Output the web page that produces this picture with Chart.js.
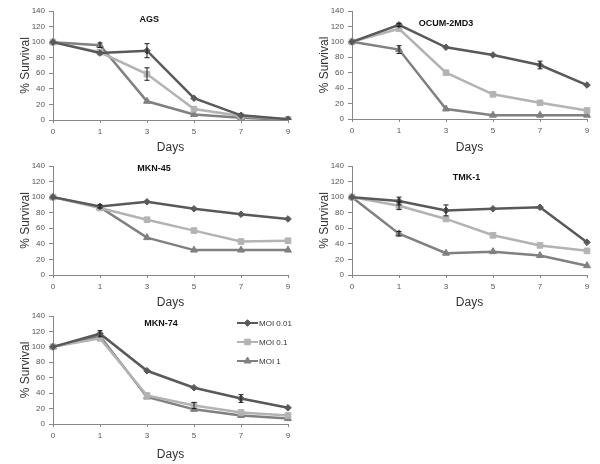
<!DOCTYPE html>
<html>
<head>
<meta charset="utf-8">
<script src="https://cdn.jsdelivr.net/npm/chart.js@4"></script>
<style>
  body { margin: 0; background: #fff; }
  #wrap { position: relative; width: 600px; height: 464px; overflow: hidden; }
  canvas { position: absolute; }
</style>
</head>
<body>
<div id="wrap">
  <canvas id="c1" width="300" height="157" style="left:0;top:0"></canvas>
  <canvas id="c2" width="300" height="157" style="left:299px;top:0"></canvas>
  <canvas id="c3" width="300" height="157" style="left:0;top:155px"></canvas>
  <canvas id="c4" width="300" height="157" style="left:299px;top:155px"></canvas>
  <canvas id="c5" width="300" height="159" style="left:0;top:305px"></canvas>
</div>
<script>
const days = ['0', '1', '3', '5', '7', '9'];
const seriesNames = ['MOI 0.01', 'MOI 0.1', 'MOI 1'];

const agsMoi001 = [100, 86, 89, 28, 6, 1];
const agsMoi01  = [100, 87, 59, 14, 5, 1];
const agsMoi1   = [100, 96, 24, 7, 3, 0];
const agsErr001 = [0, 0, 9, 0, 0, 0];
const agsErr01  = [0, 0, 8, 0, 0, 0];
const agsErr1   = [0, 3, 0, 0, 0, 0];

const ocumMoi001 = [100, 122, 93, 83, 70, 44];
const ocumMoi01  = [100, 117, 60, 32, 21, 11];
const ocumMoi1   = [100, 90, 13, 5, 5, 5];
const ocumErr001 = [0, 2, 0, 0, 5, 0];
const ocumErr01  = [0, 0, 0, 0, 0, 0];
const ocumErr1   = [0, 5, 0, 0, 0, 0];

const mkn45Moi001 = [100, 88, 94, 85, 78, 72];
const mkn45Moi01  = [100, 86, 71, 57, 43, 44];
const mkn45Moi1   = [100, 87, 48, 32, 32, 32];
const mkn45Err001 = [0, 2, 0, 0, 0, 0];
const mkn45Err01  = [0, 0, 0, 0, 0, 0];
const mkn45Err1   = [0, 0, 0, 0, 0, 0];

const tmkMoi001 = [100, 95, 83, 85, 87, 42];
const tmkMoi01  = [100, 89, 72, 51, 38, 31];
const tmkMoi1   = [100, 53, 28, 30, 25, 12];
const tmkErr001 = [0, 5, 7, 0, 0, 0];
const tmkErr01  = [0, 5, 0, 0, 0, 0];
const tmkErr1   = [0, 3, 0, 0, 0, 0];

const mkn74Moi001 = [100, 117, 69, 47, 33, 21];
const mkn74Moi01  = [100, 111, 37, 24, 15, 11];
const mkn74Moi1   = [100, 114, 35, 19, 11, 7];
const mkn74Err001 = [0, 4, 0, 0, 5, 0];
const mkn74Err01  = [0, 0, 0, 4, 0, 0];
const mkn74Err1   = [0, 0, 0, 0, 0, 0];

const yTicks = [0, 20, 40, 60, 80, 100, 120, 140];

const lineColors = ['#595959', '#b3b3b3', '#808080'];
const markers = ['rectRot', 'rect', 'triangle'];
const markerSize = [3.3, 4, 4];
const axisColor = '#878787';
const textFont = 'Liberation Sans, Arial, sans-serif';

// error bars from dataset.errors
const errorBars = {
  id: 'errorBars',
  afterDatasetsDraw(chart) {
    const ctx = chart.ctx;
    const x = chart.scales.x, y = chart.scales.y;
    ctx.save();
    ctx.strokeStyle = '#1a1a1a';
    ctx.lineWidth = 1;
    chart.data.datasets.forEach(ds => {
      (ds.errors || []).forEach((e, i) => {
        if (!e) return;
        const px = x.getPixelForValue(i);
        const top = y.getPixelForValue(ds.data[i] + e);
        const bot = y.getPixelForValue(ds.data[i] - e);
        ctx.beginPath();
        ctx.moveTo(px, top); ctx.lineTo(px, bot);
        ctx.moveTo(px - 2.5, top); ctx.lineTo(px + 2.5, top);
        ctx.moveTo(px - 2.5, bot); ctx.lineTo(px + 2.5, bot);
        ctx.stroke();
      });
    });
    ctx.restore();
  }
};

// panel name inside the plot
const panelTitle = {
  id: 'panelTitle',
  afterDraw(chart, args, opts) {
    const a = chart.chartArea;
    const ctx = chart.ctx;
    ctx.save();
    ctx.font = 'bold 9px ' + textFont;
    ctx.fillStyle = '#111';
    ctx.textAlign = 'center';
    ctx.textBaseline = 'middle';
    ctx.fillText(opts.text, a.left + opts.fx * (a.right - a.left), a.top + opts.dy);
    ctx.restore();
  }
};

// legend drawn in the last panel
const sideLegend = {
  id: 'sideLegend',
  afterDraw(chart, args, opts) {
    if (!opts.show) return;
    const ctx = chart.ctx;
    ctx.save();
    chart.data.datasets.forEach((ds, i) => {
      const yy = opts.y + i * 19;
      ctx.strokeStyle = ds.borderColor;
      ctx.lineWidth = 2;
      ctx.beginPath();
      ctx.moveTo(opts.x, yy); ctx.lineTo(opts.x + 21, yy);
      ctx.stroke();
      ctx.fillStyle = ds.borderColor;
      ctx.lineWidth = 1;
      Chart.helpers.drawPoint(ctx, {pointStyle: ds.pointStyle, radius: ds.pointRadius, borderWidth: 1}, opts.x + 10.5, yy);
      ctx.font = '8px ' + textFont;
      ctx.fillStyle = '#333';
      ctx.textBaseline = 'middle';
      ctx.fillText(seriesNames[i], opts.x + 22, yy + 0.5);
    });
    ctx.restore();
  }
};

function makePanel(id, name, values, errors, fx, dy, xHeight, legend) {
  new Chart(document.getElementById(id), {
    type: 'line',
    data: {
      labels: days,
      datasets: values.map((v, i) => ({
        label: seriesNames[i],
        data: v,
        errors: errors[i],
        borderColor: lineColors[i],
        backgroundColor: lineColors[i],
        pointBackgroundColor: lineColors[i],
        pointBorderColor: lineColors[i],
        pointBorderWidth: 1,
        pointStyle: markers[i],
        pointRadius: markerSize[i],
        borderWidth: 2.5,
        tension: 0
      }))
    },
    options: {
      responsive: false,
      animation: false,
      layout: { padding: { top: 11, right: 12, left: 0, bottom: 0 } },
      plugins: {
        legend: { display: false },
        tooltip: { enabled: false },
        panelTitle: { text: name, fx: fx, dy: dy },
        sideLegend: legend || { show: false }
      },
      scales: {
        x: {
          type: 'category',
          offset: false,
          afterFit(s) { s.height = xHeight; },
          border: { color: axisColor, width: 1 },
          grid: { display: true, drawOnChartArea: false, tickLength: 3, color: axisColor },
          ticks: { color: '#555', font: { size: 8, family: textFont }, padding: 4, maxRotation: 0 },
          title: { display: true, text: 'Days', color: '#333', font: { size: 12, family: textFont }, padding: { top: 0, bottom: 2 } }
        },
        y: {
          min: 0, max: 140,
          afterFit(s) { s.width = 53; },
          afterBuildTicks(s) { s.ticks = yTicks.map(v => ({ value: v })); },
          border: { color: axisColor, width: 1 },
          grid: { display: true, drawOnChartArea: false, tickLength: 4, color: axisColor },
          ticks: { color: '#555', font: { size: 8, family: textFont }, padding: 4 },
          title: { display: true, text: '% Survival', color: '#333', font: { size: 12, family: textFont }, padding: { top: 18, bottom: 0 } }
        }
      }
    },
    plugins: [errorBars, panelTitle, sideLegend]
  });
}

makePanel('c1', 'AGS', [agsMoi001, agsMoi01, agsMoi1], [agsErr001, agsErr01, agsErr1], 0.41, 9, 37);
makePanel('c2', 'OCUM-2MD3', [ocumMoi001, ocumMoi01, ocumMoi1], [ocumErr001, ocumErr01, ocumErr1], 0.40, 13, 38);
makePanel('c3', 'MKN-45', [mkn45Moi001, mkn45Moi01, mkn45Moi1], [mkn45Err001, mkn45Err01, mkn45Err1], 0.43, 3, 37);
makePanel('c4', 'TMK-1', [tmkMoi001, tmkMoi01, tmkMoi1], [tmkErr001, tmkErr01, tmkErr1], 0.487, 12, 37);
makePanel('c5', 'MKN-74', [mkn74Moi001, mkn74Moi01, mkn74Moi1], [mkn74Err001, mkn74Err01, mkn74Err1], 0.46, 8, 40,
  { show: true, x: 237, y: 18 });
</script>
</body>
</html>
